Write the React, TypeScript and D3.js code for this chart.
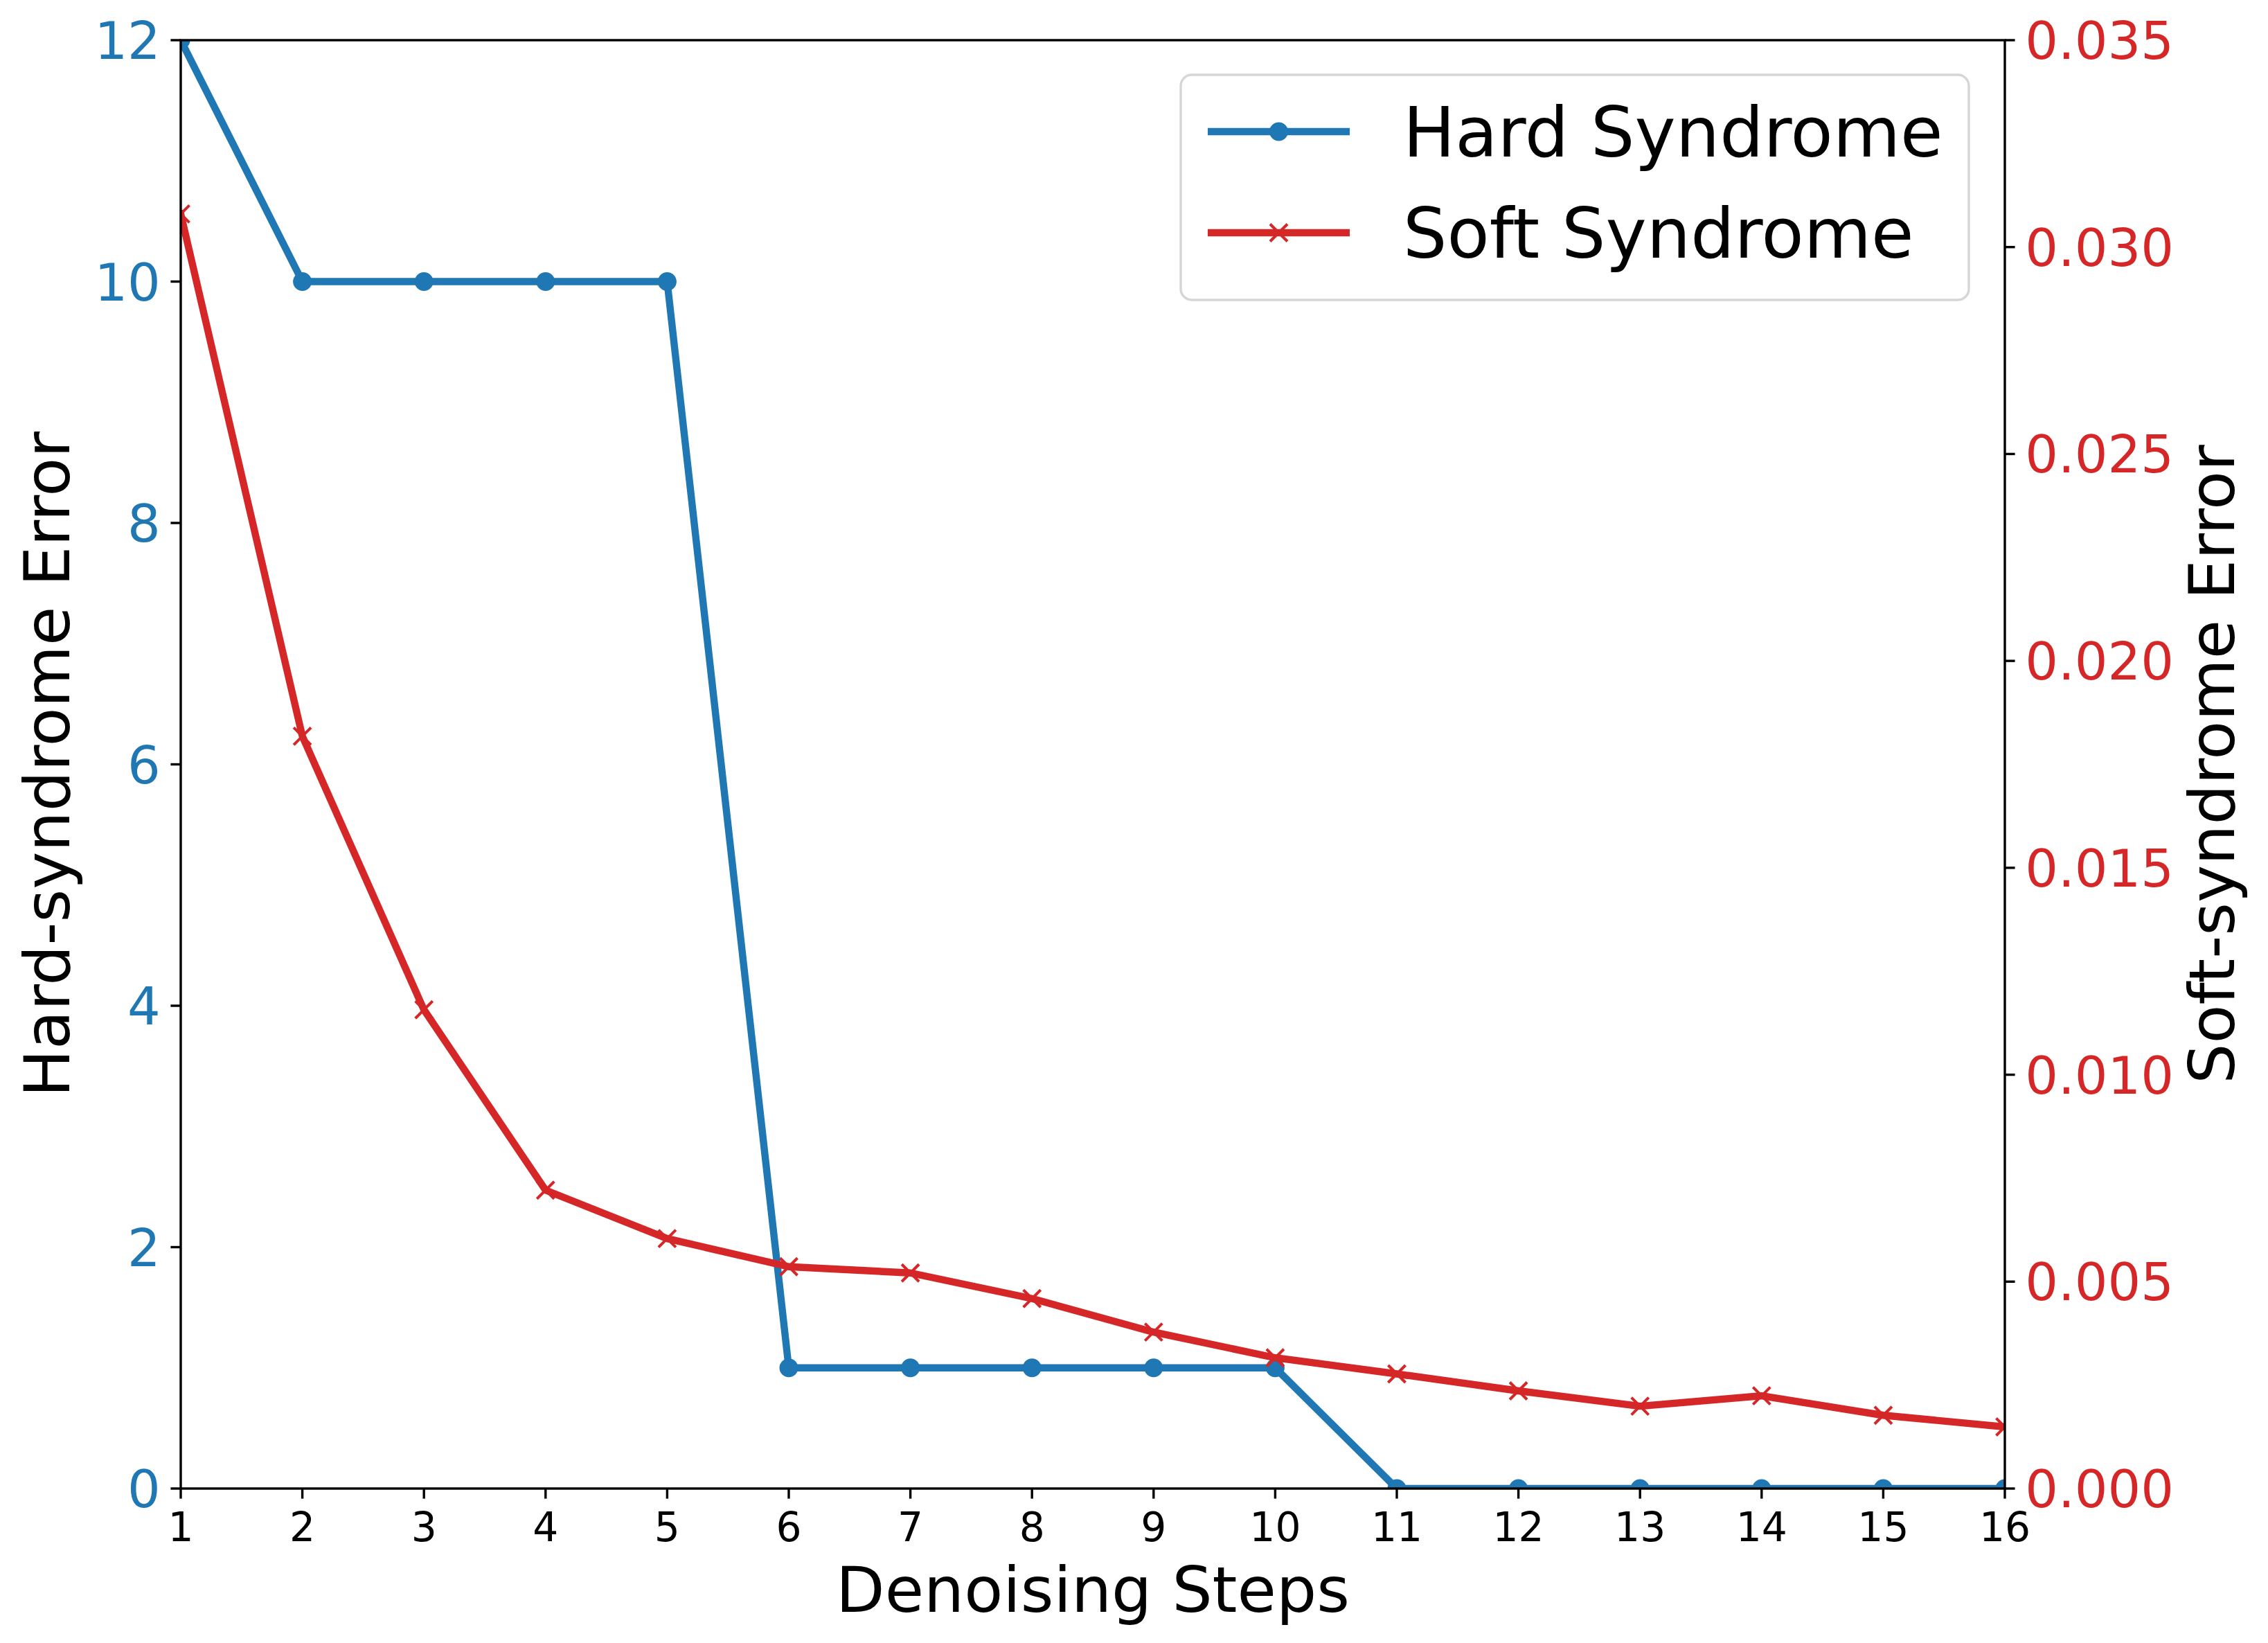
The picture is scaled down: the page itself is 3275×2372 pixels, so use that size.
import React from "react";
import { scaleLinear, line } from "d3";

const WIDTH = 3275;
const HEIGHT = 2372;
const MARGIN = { top: 58, right: 380, bottom: 223, left: 261 };

const steps = [1, 2, 3, 4, 5, 6, 7, 8, 9, 10, 11, 12, 13, 14, 15, 16];
const hardSyndrome = [12, 10, 10, 10, 10, 1, 1, 1, 1, 1, 0, 0, 0, 0, 0, 0];
const softSyndrome = [
  0.0308, 0.01818, 0.01157, 0.00721, 0.00604, 0.00536, 0.00521, 0.00459,
  0.00378, 0.00316, 0.00277, 0.00236, 0.00199, 0.00224, 0.00177, 0.00149,
];
const hardTicks = [0, 2, 4, 6, 8, 10, 12];
const softTicks = [0, 0.005, 0.01, 0.015, 0.02, 0.025, 0.03, 0.035];
const legendLabels = ["Hard Syndrome", "Soft Syndrome"];

const BLUE = "#1f77b4";
const RED = "#d62728";
const FONT = "DejaVu Sans";

export default function App() {
  const innerWidth = WIDTH - MARGIN.left - MARGIN.right;
  const innerHeight = HEIGHT - MARGIN.top - MARGIN.bottom;

  const x = scaleLinear().domain([1, 16]).range([0, innerWidth]);
  const yHard = scaleLinear().domain([0, 12]).range([innerHeight, 0]);
  const ySoft = scaleLinear().domain([0, 0.035]).range([innerHeight, 0]);

  const hardLine = line<number>()
    .x((d, i) => x(steps[i]))
    .y((d) => yHard(d));
  const softLine = line<number>()
    .x((d, i) => x(steps[i]))
    .y((d) => ySoft(d));

  const tickLen = 14.6;
  const axisW = 3.4;
  const xm = 12.5; // half size of the x marker

  // legend box
  const lg = { x: 1705, y: 108, w: 1138, h: 325 };
  const handleX0 = 1744;
  const handleX1 = 1949;
  const rowY = [190, 336];

  return (
    <svg
      width={WIDTH}
      height={HEIGHT}
      style={{ position: "absolute", left: 0, top: 0, background: "#fff" }}
      fontFamily={FONT}
    >
      <rect width={WIDTH} height={HEIGHT} fill="#fff" />
      <defs>
        <clipPath id="plotClip">
          <rect x={0} y={0} width={innerWidth} height={innerHeight} />
        </clipPath>
      </defs>
      <g transform={`translate(${MARGIN.left},${MARGIN.top})`}>
        {/* hard syndrome, left axis */}
        <g clipPath="url(#plotClip)">
          <path
            d={hardLine(hardSyndrome) ?? ""}
            fill="none"
            stroke={BLUE}
            strokeWidth={10.4}
            strokeLinejoin="round"
            strokeLinecap="square"
          />
          {hardSyndrome.map((d, i) => (
            <circle key={i} cx={x(steps[i])} cy={yHard(d)} r={13.5} fill={BLUE} />
          ))}
          {/* soft syndrome, right axis */}
          <path
            d={softLine(softSyndrome) ?? ""}
            fill="none"
            stroke={RED}
            strokeWidth={10.4}
            strokeLinejoin="round"
            strokeLinecap="square"
          />
          {softSyndrome.map((d, i) => {
            const cx = x(steps[i]);
            const cy = ySoft(d);
            return (
              <path
                key={i}
                d={`M${cx - xm},${cy - xm}L${cx + xm},${cy + xm}M${cx - xm},${cy + xm}L${cx + xm},${cy - xm}`}
                stroke={RED}
                strokeWidth={4}
              />
            );
          })}
        </g>

        {/* frame */}
        <rect
          x={0}
          y={0}
          width={innerWidth}
          height={innerHeight}
          fill="none"
          stroke="#000"
          strokeWidth={axisW}
        />

        {/* x axis */}
        {steps.map((s) => (
          <g key={s} transform={`translate(${x(s)},${innerHeight})`}>
            <line y1={0} y2={tickLen} stroke="#000" strokeWidth={axisW} />
            <text y={76} textAnchor="middle" fontSize={58.3} fill="#000">
              {s}
            </text>
          </g>
        ))}
        <text
          x={innerWidth / 2}
          y={innerHeight + 178}
          textAnchor="middle"
          fontSize={91.7}
          fill="#000"
        >
          Denoising Steps
        </text>

        {/* left axis */}
        {hardTicks.map((t) => (
          <g key={t} transform={`translate(0,${yHard(t)})`}>
            <line x1={-tickLen} x2={0} stroke="#000" strokeWidth={axisW} />
            <text
              x={-tickLen - 14.6}
              y={27}
              textAnchor="end"
              fontSize={75}
              fill={BLUE}
            >
              {t}
            </text>
          </g>
        ))}
        <text
          transform={`translate(${100 - MARGIN.left},${innerHeight / 2}) rotate(-90)`}
          textAnchor="middle"
          fontSize={91.7}
          fill="#000"
        >
          Hard-syndrome Error
        </text>

        {/* right axis */}
        {softTicks.map((t) => (
          <g key={t} transform={`translate(${innerWidth},${ySoft(t)})`}>
            <line x1={0} x2={tickLen} stroke="#000" strokeWidth={axisW} />
            <text x={tickLen + 14.6} y={27} textAnchor="start" fontSize={75} fill={RED}>
              {t.toFixed(3)}
            </text>
          </g>
        ))}
        <text
          transform={`translate(${3226 - MARGIN.left},${innerHeight / 2}) rotate(-90)`}
          textAnchor="middle"
          fontSize={91.7}
          fill="#000"
        >
          Soft-syndrome Error
        </text>
      </g>

      {/* legend */}
      <g>
        <rect
          x={lg.x}
          y={lg.y}
          width={lg.w}
          height={lg.h}
          rx={16}
          fill="#fff"
          fillOpacity={0.8}
          stroke="#d6d6d6"
          strokeWidth={3.4}
        />
        {legendLabels.map((label, i) => {
          const cy = rowY[i];
          const cx = (handleX0 + handleX1) / 2;
          const color = i === 0 ? BLUE : RED;
          return (
            <g key={label}>
              <line x1={handleX0} x2={handleX1} y1={cy} y2={cy} stroke={color} strokeWidth={10.4} />
              {i === 0 ? (
                <circle cx={cx} cy={cy} r={13.5} fill={BLUE} />
              ) : (
                <path
                  d={`M${cx - xm},${cy - xm}L${cx + xm},${cy + xm}M${cx - xm},${cy + xm}L${cx + xm},${cy - xm}`}
                  stroke={RED}
                  strokeWidth={4}
                />
              )}
              <text x={2026} y={cy + 36} fontSize={100} fill="#000">
                {label}
              </text>
            </g>
          );
        })}
      </g>
    </svg>
  );
}
